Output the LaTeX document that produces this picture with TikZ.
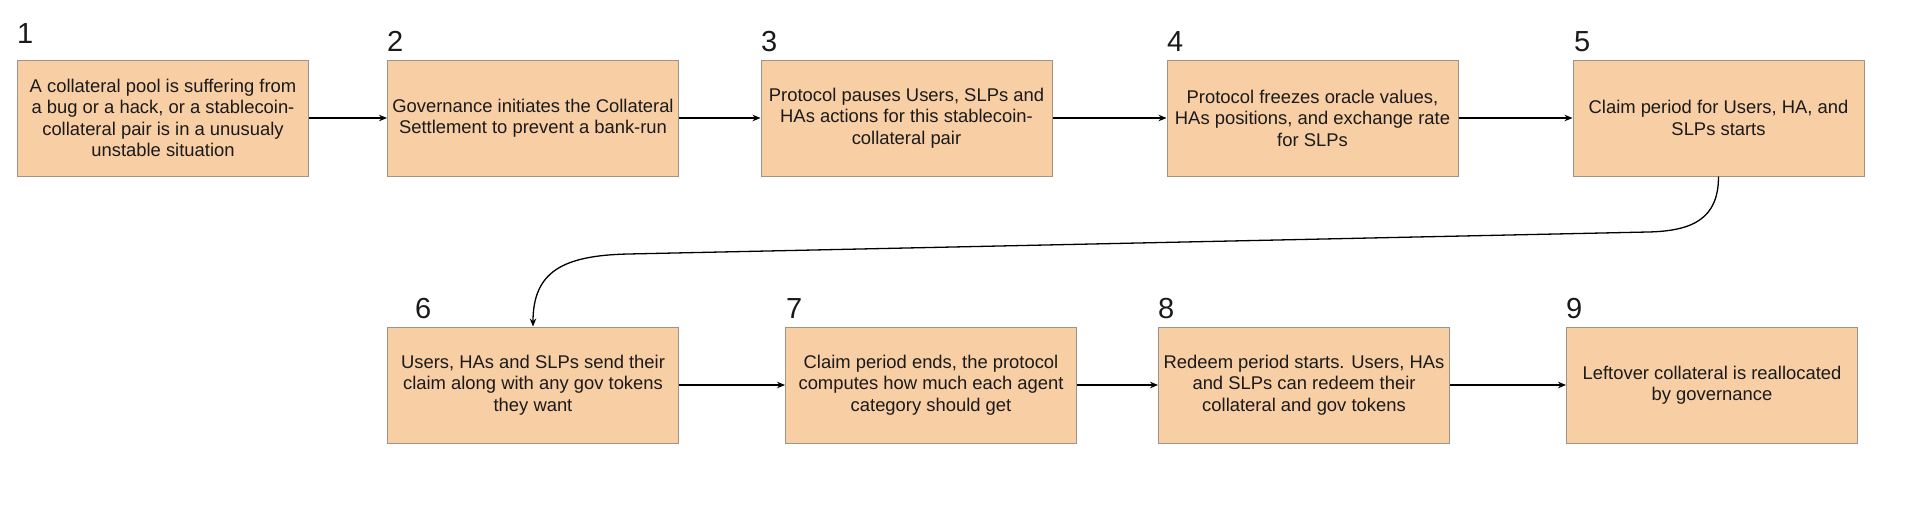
\documentclass[tikz,border=0pt]{standalone}
\usepackage{fontspec}
\setmainfont{Liberation Sans}
\usetikzlibrary{arrows.meta}
\definecolor{boxfill}{RGB}{248,206,164}
\definecolor{boxline}{RGB}{160,146,132}
\definecolor{txt}{RGB}{26,26,26}
\tikzset{
  stepbox/.style={draw=boxline, fill=boxfill, line width=1pt, minimum width=291pt, minimum height=116pt, inner sep=0pt, align=center, text=txt, font=\fontsize{18.4}{21.5}\selectfont},
  numlab/.style={anchor=base west, inner sep=0pt, text=txt, font=\fontsize{29}{32}\selectfont},
  arr/.style={draw=black, line width=1.3pt, -{Stealth[length=8pt,width=6.5pt]}}
}
\begin{document}
\begin{tikzpicture}[x=1pt,y=-1pt]
\useasboundingbox[fill=white] (0,0) rectangle (1910,523);
% row 1
\node[stepbox] (n1) at (163,118) {A collateral pool is suffering from\\a bug or a hack, or a stablecoin-\\collateral pair is in a unusualy\\unstable situation};
\node[stepbox] (n2) at (533,118) {Governance initiates the Collateral\\Settlement to prevent a bank-run};
\node[stepbox] (n3) at (906.5,118) {Protocol pauses Users, SLPs and\\HAs actions for this stablecoin-\\collateral pair};
\node[stepbox] (n4) at (1312.5,118) {Protocol freezes oracle values,\\HAs positions, and exchange rate\\for SLPs};
\node[stepbox] (n5) at (1718.5,118) {Claim period for Users, HA, and\\SLPs starts};
% row 2
\node[stepbox] (n6) at (533,385) {Users, HAs and SLPs send their\\claim along with any gov tokens\\they want};
\node[stepbox] (n7) at (931,385) {Claim period ends, the protocol\\computes how much each agent\\category should get};
\node[stepbox] (n8) at (1304,385) {Redeem period starts. Users, HAs\\and SLPs can redeem their\\collateral and gov tokens};
\node[stepbox] (n9) at (1712,385) {Leftover collateral is reallocated\\by governance};
% numbers
\node[numlab] (l1) at (17,43) {1};
\node[numlab] (l2) at (387,51) {2};
\node[numlab] (l3) at (761,51) {3};
\node[numlab] (l4) at (1167,51) {4};
\node[numlab] (l5) at (1574,51) {5};
\node[numlab] (l6) at (415,318) {6};
\node[numlab] (l7) at (786,318) {7};
\node[numlab] (l8) at (1158,318) {8};
\node[numlab] (l9) at (1566,318) {9};
% connectors
\draw[arr] (n1) -- (n2);
\draw[arr] (n2) -- (n3);
\draw[arr] (n3) -- (n4);
\draw[arr] (n4) -- (n5);
\draw[arr] (n6) -- (n7);
\draw[arr] (n7) -- (n8);
\draw[arr] (n8) -- (n9);
\coordinate (b1) at (1648,232);
\coordinate (b2) at (628,254);
\draw[arr] (n5.south) .. controls +(0,42) and +(45,-1) .. (b1) -- (b2) .. controls +(-65,1.5) and +(0,-55) .. (n6.north);
\end{tikzpicture}
\end{document}
